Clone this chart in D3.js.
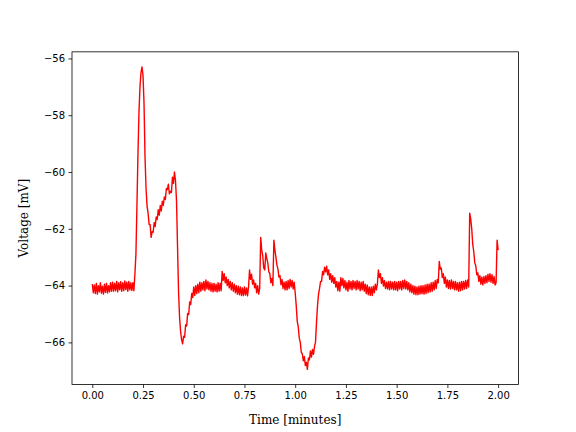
<!DOCTYPE html>
<html lang="en">

<head>
    <meta charset="UTF-8" />
    <script src="https://d3js.org/d3.v7.min.js"></script>
    <title>Voltage trace</title>
    <style>
        body { margin: 0; background: white; }
    </style>
</head>

<body>
    <script>
        var sampleStep = 0.005;
        var voltage = [
            -63.95, -64.25, -63.98, -64.28, -63.92, -64.3, -64.0, -64.22, -63.9, -64.27, -64.02, -64.3, -63.95, -64.24, -63.92, -64.26, -64.0, -64.22, -63.9, -64.2,
            -63.88, -64.2, -63.92, -64.18, -63.85, -64.22, -63.9, -64.15, -63.86, -64.2, -63.9, -64.18, -63.84, -64.14, -63.88, -64.2, -63.85, -64.15, -63.9, -64.17,
            -63.9, -64.18, -63.6, -62.9, -61.2, -59.4, -57.9, -57.0, -56.5, -56.3, -56.6, -57.6, -59.5, -60.6, -61.2, -61.45, -61.85, -61.85, -62.3, -62.1,
            -62.12, -61.78, -61.92, -61.58, -61.67, -61.33, -61.52, -61.18, -61.37, -61.03, -61.17, -60.88, -60.97, -60.58, -60.62, -60.43, -60.77, -60.68, -60.72, -60.18,
            -60.4, -60.0, -60.3, -61.0, -62.6, -64.2, -65.1, -65.6, -65.9, -66.05, -65.78, -65.82, -65.38, -65.42, -64.98, -65.02, -64.58, -64.67, -64.28, -64.42,
            -64.05, -64.35, -64.0, -64.28, -63.95, -64.25, -63.88, -64.2, -63.9, -64.15, -63.85, -64.18, -63.8, -64.12, -63.85, -64.15, -63.9, -64.2, -63.92, -64.22,
            -63.92, -64.2, -63.95, -64.22, -63.9, -64.2, -63.92, -64.18, -63.5, -63.82, -63.58, -63.9, -63.7, -64.0, -63.78, -64.08, -63.85, -64.15, -63.9, -64.2,
            -63.95, -64.25, -64.0, -64.3, -64.02, -64.32, -64.05, -64.35, -64.08, -64.35, -64.05, -64.33, -64.08, -64.36, -64.05, -63.45, -63.78, -63.6, -63.95, -63.8,
            -64.08, -63.92, -64.25, -64.0, -64.3, -64.1, -62.3, -62.75, -62.95, -63.38, -63.45, -62.85, -63.05, -63.2, -63.52, -63.58, -63.9, -63.75, -64.0, -62.4,
            -62.75, -63.0, -63.28, -63.42, -63.7, -63.65, -63.97, -63.78, -64.1, -63.88, -64.15, -63.85, -64.15, -63.82, -64.1, -63.78, -64.05, -63.82, -64.12, -63.88,
            -64.25, -64.7, -65.25, -65.45, -65.85, -66.0, -66.35, -66.4, -66.65, -66.5, -66.82, -66.7, -66.95, -66.55, -66.62, -66.3, -66.52, -66.25, -66.42, -66.15,
            -66.0, -65.3, -64.7, -64.3, -64.1, -63.85, -63.85, -63.5, -63.62, -63.35, -63.52, -63.32, -63.62, -63.45, -63.78, -63.58, -63.88, -63.65, -63.92, -63.72,
            -64.05, -63.85, -64.18, -63.88, -64.2, -63.72, -64.0, -63.75, -64.08, -63.82, -64.15, -63.88, -64.2, -63.82, -64.12, -63.85, -64.15, -63.82, -64.1, -63.85,
            -64.15, -63.82, -64.12, -63.85, -64.18, -63.88, -64.15, -63.85, -64.2, -63.95, -64.28, -63.98, -64.32, -64.05, -64.35, -64.05, -64.35, -64.02, -64.25, -63.95,
            -64.15, -63.95, -63.45, -63.72, -63.58, -63.92, -63.72, -64.02, -63.82, -64.1, -63.88, -64.12, -63.85, -64.15, -63.85, -64.12, -63.88, -64.15, -63.85, -64.15,
            -63.88, -64.18, -63.85, -64.12, -63.85, -64.15, -63.82, -64.1, -63.8, -64.12, -63.85, -64.15, -63.9, -64.22, -63.95, -64.25, -64.0, -64.3, -64.02, -64.32,
            -64.05, -64.32, -64.02, -64.3, -64.0, -64.28, -64.0, -64.3, -63.98, -64.28, -63.95, -64.25, -63.95, -64.22, -63.9, -64.2, -63.88, -64.15, -63.82, -64.1,
            -63.78, -63.9, -63.15, -63.42, -63.38, -63.72, -63.58, -63.92, -63.7, -64.05, -63.8, -64.1, -63.82, -64.12, -63.8, -64.1, -63.85, -64.15, -63.85, -64.15,
            -63.9, -64.2, -63.88, -64.18, -63.85, -64.15, -63.85, -64.12, -63.82, -64.1, -63.8, -64.05, -61.45, -61.65, -62.0, -62.55, -62.8, -63.2, -63.3, -63.62,
            -63.55, -63.85, -63.65, -63.95, -63.7, -63.98, -63.68, -63.92, -63.65, -63.9, -63.6, -63.85, -63.58, -63.88, -63.62, -63.92, -63.68, -63.98, -63.9, -62.4,
            -62.75
        ];
        var xTicks = [0, 0.25, 0.5, 0.75, 1.0, 1.25, 1.5, 1.75, 2.0];
        var yTicks = [-66, -64, -62, -60, -58, -56];

        var data = voltage.map((v, i) => ({ t: i * sampleStep, v: v }));

        var width = 576, height = 432;
        var margin = { left: 72, right: 57.6, top: 51.84, bottom: 47.52 };

        var svg = d3.select("body").append("svg")
            .attr("width", width)
            .attr("height", height)
            .style("background", "white");

        // matplotlib style 5% padding round the data
        var tExt = d3.extent(data, d => d.t), vExt = d3.extent(data, d => d.v);
        var tPad = (tExt[1] - tExt[0]) * 0.05, vPad = (vExt[1] - vExt[0]) * 0.05;

        var x = d3.scaleLinear()
            .domain([tExt[0] - tPad, tExt[1] + tPad])
            .range([margin.left, width - margin.right]);
        var y = d3.scaleLinear()
            .domain([vExt[0] - vPad, vExt[1] + vPad])
            .range([height - margin.bottom, margin.top]);

        var line = d3.line().x(d => x(d.t)).y(d => y(d.v));

        svg.append("path")
            .datum(data)
            .attr("d", line)
            .attr("fill", "none")
            .attr("stroke", "#ff0000")
            .attr("stroke-width", 1.4)
            .attr("stroke-linejoin", "round");

        var xAxis = svg.append("g")
            .attr("transform", "translate(0," + (height - margin.bottom) + ")")
            .call(d3.axisBottom(x).tickValues(xTicks).tickFormat(d3.format(".2f")).tickSizeOuter(0).tickSize(3.5).tickPadding(3.5));
        var yAxis = svg.append("g")
            .attr("transform", "translate(" + margin.left + ",0)")
            .call(d3.axisLeft(y).tickValues(yTicks).tickFormat(d3.format("d")).tickSizeOuter(0).tickSize(3.5).tickPadding(3.5));

        [xAxis, yAxis].forEach(g => {
            g.select(".domain").remove();
            g.selectAll(".tick line").attr("stroke", "black").attr("stroke-width", 0.8);
            g.selectAll(".tick text").attr("fill", "black")
                .style("font-family", "DejaVu Sans").style("font-size", "10px");
        });

        // frame
        svg.append("rect")
            .attr("x", margin.left).attr("y", margin.top)
            .attr("width", width - margin.left - margin.right)
            .attr("height", height - margin.top - margin.bottom)
            .attr("fill", "none").attr("stroke", "black").attr("stroke-width", 0.8);

        svg.append("text")
            .attr("x", (margin.left + width - margin.right) / 2)
            .attr("y", 423.5)
            .attr("text-anchor", "middle")
            .style("font-family", "DejaVu Serif").style("font-size", "12px")
            .text("Time [minutes]");

        svg.append("text")
            .attr("transform", "translate(27.5," + (margin.top + (height - margin.bottom)) / 2 + ") rotate(-90)")
            .attr("text-anchor", "middle")
            .style("font-family", "DejaVu Serif").style("font-size", "12px")
            .text("Voltage [mV]");
    </script>
</body>

</html>
